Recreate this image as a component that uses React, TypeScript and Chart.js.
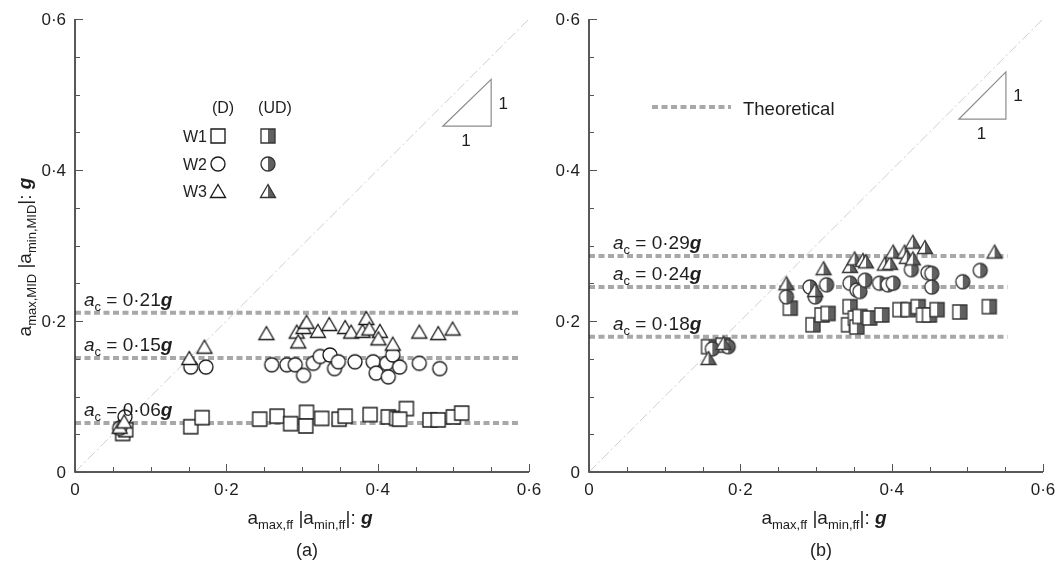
import React, { useEffect, useRef } from 'react';
import { Chart, registerables } from 'chart.js';
Chart.register(...registerables);

// ---------- data: panel (a), dry (D) ----------
const W1_D_X = [0.063, 0.067, 0.153, 0.168, 0.244, 0.267, 0.285, 0.306, 0.305, 0.326, 0.349, 0.357, 0.390, 0.414, 0.425, 0.438, 0.429, 0.469, 0.480, 0.500, 0.511];
const W1_D_Y = [0.051, 0.056, 0.060, 0.072, 0.070, 0.074, 0.064, 0.079, 0.061, 0.071, 0.070, 0.074, 0.076, 0.073, 0.071, 0.084, 0.070, 0.069, 0.069, 0.073, 0.078];
const W2_D_X = [0.059, 0.066, 0.153, 0.173, 0.260, 0.280, 0.291, 0.302, 0.315, 0.324, 0.337, 0.343, 0.348, 0.370, 0.394, 0.398, 0.412, 0.414, 0.420, 0.429, 0.455, 0.482];
const W2_D_Y = [0.058, 0.073, 0.139, 0.139, 0.142, 0.142, 0.142, 0.128, 0.144, 0.153, 0.155, 0.137, 0.146, 0.146, 0.146, 0.131, 0.144, 0.126, 0.155, 0.139, 0.144, 0.137];
const W3_D_X = [0.059, 0.065, 0.151, 0.171, 0.253, 0.293, 0.295, 0.302, 0.306, 0.321, 0.336, 0.357, 0.365, 0.380, 0.385, 0.389, 0.403, 0.401, 0.420, 0.455, 0.480, 0.499];
const W3_D_Y = [0.060, 0.067, 0.151, 0.166, 0.184, 0.186, 0.173, 0.192, 0.199, 0.187, 0.196, 0.192, 0.186, 0.187, 0.204, 0.190, 0.187, 0.177, 0.170, 0.186, 0.184, 0.190];

// ---------- data: panel (b), undrained (UD) ----------
const W1_UD_X = [0.158, 0.177, 0.266, 0.296, 0.308, 0.316, 0.345, 0.343, 0.352, 0.354, 0.358, 0.371, 0.387, 0.411, 0.422, 0.435, 0.442, 0.450, 0.460, 0.490, 0.529];
const W1_UD_Y = [0.166, 0.168, 0.217, 0.195, 0.208, 0.210, 0.219, 0.195, 0.204, 0.192, 0.206, 0.204, 0.208, 0.215, 0.215, 0.219, 0.208, 0.208, 0.215, 0.212, 0.219];
const W2_UD_X = [0.163, 0.184, 0.261, 0.292, 0.299, 0.314, 0.345, 0.354, 0.358, 0.365, 0.384, 0.395, 0.402, 0.426, 0.448, 0.453, 0.453, 0.494, 0.517];
const W2_UD_Y = [0.163, 0.166, 0.232, 0.245, 0.232, 0.248, 0.250, 0.241, 0.239, 0.254, 0.250, 0.248, 0.250, 0.268, 0.264, 0.263, 0.245, 0.252, 0.267];
const W3_UD_X = [0.158, 0.178, 0.261, 0.299, 0.310, 0.345, 0.351, 0.362, 0.366, 0.391, 0.398, 0.402, 0.417, 0.420, 0.428, 0.444, 0.428, 0.536];
const W3_UD_Y = [0.151, 0.171, 0.250, 0.241, 0.270, 0.273, 0.283, 0.281, 0.279, 0.276, 0.277, 0.292, 0.292, 0.285, 0.305, 0.298, 0.283, 0.292];

// ---------- theoretical thresholds ----------
const THEORY_A = [0.211, 0.151, 0.065];
const THEORY_A_LABELS = ['0·21', '0·15', '0·06'];
const THEORY_A_XEND = 0.59;
const THEORY_B = [0.286, 0.245, 0.179];
const THEORY_B_LABELS = ['0·29', '0·24', '0·18'];
const THEORY_B_XEND = 0.553;

// ---------- axes ----------
const AXIS_MIN = 0;
const AXIS_MAX = 0.6;
const MINOR_STEP = 0.05;
const MAJOR_TICKS = [0, 0.2, 0.4, 0.6];
const MAJOR_LABELS = ['0', '0·2', '0·4', '0·6'];
const DIAG = [0, 0.6];

// slope triangles (1:1)
const SLOPE_A_X = [0.486, 0.55];
const SLOPE_A_Y = [0.458, 0.52];
const SLOPE_B_X = [0.489, 0.551];
const SLOPE_B_Y = [0.4675, 0.53];

const FONT = '"Liberation Sans", Arial, Helvetica, sans-serif';
const TEXT = '#1e1e1e';
const THEORY_COLOR = '#a8a8a8';

type Seg = { t: string; size: number; italic?: boolean; bold?: boolean; dy?: number };
const fontOf = (s: Seg) => `${s.italic ? 'italic ' : ''}${s.bold ? 'bold ' : ''}${s.size}px ${FONT}`;

function drawRich(ctx: CanvasRenderingContext2D, segs: Seg[], x: number, baseline: number, align: 'left' | 'center' | 'right' = 'left') {
  ctx.save();
  const widths = segs.map((s) => {
    ctx.font = fontOf(s);
    return ctx.measureText(s.t).width;
  });
  const total = widths.reduce((a, b) => a + b, 0);
  let cx = align === 'center' ? x - total / 2 : align === 'right' ? x - total : x;
  ctx.textAlign = 'left';
  ctx.textBaseline = 'alphabetic';
  ctx.fillStyle = TEXT;
  segs.forEach((s, i) => {
    ctx.font = fontOf(s);
    ctx.fillText(s.t, cx, baseline + (s.dy || 0));
    cx += widths[i];
  });
  ctx.restore();
}

function makeMarker(shape: 'rect' | 'circle' | 'triangle', half: boolean): HTMLCanvasElement {
  const c = document.createElement('canvas');
  c.width = 20;
  c.height = 20;
  const g = c.getContext('2d')!;
  const path = () => {
    g.beginPath();
    if (shape === 'rect') g.rect(3, 3, 14, 14);
    else if (shape === 'circle') g.arc(10, 10, 7, 0, Math.PI * 2);
    else {
      g.moveTo(10, 3.5);
      g.lineTo(17.5, 16.5);
      g.lineTo(2.5, 16.5);
      g.closePath();
    }
  };
  path();
  g.fillStyle = '#ffffff';
  g.fill();
  if (half) {
    g.save();
    path();
    g.clip();
    g.fillStyle = '#606060';
    g.fillRect(10, 0, 10, 20);
    g.restore();
  }
  path();
  g.lineWidth = 1.35;
  g.strokeStyle = half ? '#353535' : '#1a1a1a';
  g.stroke();
  return c;
}

const zip = (xs: number[], ys: number[]) => xs.map((x, i) => ({ x, y: ys[i] }));

type Panel = {
  id: 'a' | 'b';
  offsetX: number;
  yAxisWidth: number;
  padRight: number;
  series: { xs: number[]; ys: number[]; marker: HTMLCanvasElement; order: number }[];
  theory: number[];
  theoryLabels: string[];
  theoryEnd: number;
  labelDx: number;
  slopeX: number[];
  slopeY: number[];
};

function decoPlugin(p: Panel, markers: Record<string, HTMLCanvasElement>) {
  return {
    id: 'deco' + p.id,
    afterDatasetsDraw(chart: any) {
      const ctx: CanvasRenderingContext2D = chart.ctx;
      const xs = chart.scales.x;
      const ys = chart.scales.y;
      const area = chart.chartArea;
      const isMajor = (v: number) => Math.abs(v / 0.2 - Math.round(v / 0.2)) < 1e-6;

      ctx.save();
      // axes lines
      ctx.strokeStyle = '#222';
      ctx.lineWidth = 1.5;
      ctx.beginPath();
      ctx.moveTo(area.left, area.top);
      ctx.lineTo(area.left, area.bottom);
      ctx.lineTo(area.right, area.bottom);
      ctx.stroke();

      // inward ticks
      ctx.strokeStyle = '#555';
      ctx.lineWidth = 1;
      xs.ticks.forEach((t: any) => {
        const px = Math.round(xs.getPixelForValue(t.value)) + 0.5;
        const len = isMajor(t.value) ? 8 : 5;
        ctx.beginPath();
        ctx.moveTo(px, area.bottom);
        ctx.lineTo(px, area.bottom - len);
        ctx.stroke();
      });
      ys.ticks.forEach((t: any) => {
        const py = Math.round(ys.getPixelForValue(t.value)) + 0.5;
        const len = isMajor(t.value) ? 8 : 5;
        ctx.beginPath();
        ctx.moveTo(area.left, py);
        ctx.lineTo(area.left + len, py);
        ctx.stroke();
      });
      ctx.restore();

      // tick labels
      MAJOR_TICKS.forEach((v, i) => {
        const px = xs.getPixelForValue(v);
        drawRich(ctx, [{ t: MAJOR_LABELS[i], size: 17 }], px, area.bottom + 23, 'center');
        const py = ys.getPixelForValue(v);
        drawRich(ctx, [{ t: MAJOR_LABELS[i], size: 17 }], area.left - 9, py + 6, 'right');
      });

      // x title and panel letter
      const cx = (area.left + area.right) / 2;
      drawRich(
        ctx,
        [
          { t: 'a', size: 19 },
          { t: 'max,ff', size: 13, dy: 5 },
          { t: ' |a', size: 19 },
          { t: 'min,ff', size: 13, dy: 5 },
          { t: '|: ', size: 19 },
          { t: 'g', size: 19, bold: true, italic: true },
        ],
        cx + 8,
        area.bottom + 52,
        'center'
      );
      drawRich(ctx, [{ t: p.id === 'a' ? '(a)' : '(b)', size: 18 }], cx + 5, area.bottom + 84, 'center');

      // theoretical labels
      p.theory.forEach((v, i) => {
        const py = ys.getPixelForValue(v);
        drawRich(
          ctx,
          [
            { t: 'a', size: 19, italic: true },
            { t: 'c', size: 13, dy: 5 },
            { t: ' = ' + p.theoryLabels[i], size: 19 },
            { t: 'g', size: 19, bold: true, italic: true },
          ],
          area.left + p.labelDx,
          py - 7
        );
      });

      // slope triangle
      const x0 = xs.getPixelForValue(p.slopeX[0]);
      const x1 = xs.getPixelForValue(p.slopeX[1]);
      const y0 = ys.getPixelForValue(p.slopeY[0]);
      const y1 = ys.getPixelForValue(p.slopeY[1]);
      ctx.save();
      ctx.strokeStyle = '#8c8c8c';
      ctx.lineWidth = 1.2;
      ctx.beginPath();
      ctx.moveTo(x0, y0);
      ctx.lineTo(x1, y1);
      ctx.lineTo(x1, y0);
      ctx.closePath();
      ctx.stroke();
      ctx.restore();
      drawRich(ctx, [{ t: '1', size: 17 }], x1 + 12, (y0 + y1) / 2 + 6, 'center');
      drawRich(ctx, [{ t: '1', size: 17 }], (x0 + x1) / 2 - 1, y0 + 20, 'center');

      if (p.id === 'a') {
        // y title (rotated)
        ctx.save();
        ctx.translate(31, 257);
        ctx.rotate(-Math.PI / 2);
        drawRich(
          ctx,
          [
            { t: 'a', size: 19 },
            { t: 'max,MID', size: 13, dy: 5 },
            { t: ' |a', size: 19 },
            { t: 'min,MID', size: 13, dy: 5 },
            { t: '|: ', size: 19 },
            { t: 'g', size: 19, bold: true, italic: true },
          ],
          0,
          0,
          'center'
        );
        ctx.restore();

        // legend
        drawRich(ctx, [{ t: '(D)', size: 16 }], 223, 113, 'center');
        drawRich(ctx, [{ t: '(UD)', size: 16 }], 275, 113, 'center');
        const rows = [
          { label: 'W1', d: markers.rectD, u: markers.rectU, y: 136 },
          { label: 'W2', d: markers.circD, u: markers.circU, y: 164 },
          { label: 'W3', d: markers.triD, u: markers.triU, y: 191 },
        ];
        rows.forEach((r) => {
          drawRich(ctx, [{ t: r.label, size: 16 }], 207, r.y + 6, 'right');
          ctx.drawImage(r.d, 218 - 10, r.y - 10);
          ctx.drawImage(r.u, 268 - 10, r.y - 10);
        });
      } else {
        // theoretical legend (page coords shifted into this canvas)
        const ox = p.offsetX;
        ctx.save();
        ctx.strokeStyle = THEORY_COLOR;
        ctx.lineWidth = 4;
        ctx.setLineDash([6, 3.5]);
        ctx.beginPath();
        ctx.moveTo(652 - ox, 107);
        ctx.lineTo(731 - ox, 107);
        ctx.stroke();
        ctx.restore();
        drawRich(ctx, [{ t: 'Theoretical', size: 18.5 }], 743 - ox, 115, 'left');
      }
    },
  };
}

function buildConfig(p: Panel, markers: Record<string, HTMLCanvasElement>): any {
  const datasets: any[] = [];
  p.series.forEach((s) => {
    datasets.push({
      data: zip(s.xs, s.ys),
      pointStyle: s.marker,
      pointRadius: 7,
      pointHoverRadius: 7,
      showLine: false,
      order: s.order,
    });
  });
  p.theory.forEach((v) => {
    datasets.push({
      data: [
        { x: AXIS_MIN, y: v },
        { x: p.theoryEnd, y: v },
      ],
      showLine: true,
      borderColor: THEORY_COLOR,
      borderWidth: 4,
      borderDash: [6, 3.5],
      pointRadius: 0,
      order: 10,
    });
  });
  datasets.push({
    data: [
      { x: DIAG[0], y: DIAG[0] },
      { x: DIAG[1], y: DIAG[1] },
    ],
    showLine: true,
    borderColor: '#cfcfcf',
    borderWidth: 1,
    borderDash: [10, 3, 2, 3],
    pointRadius: 0,
    order: 11,
  });

  const axis = (isY: boolean) => ({
    type: 'linear',
    min: AXIS_MIN,
    max: AXIS_MAX,
    grid: { display: false },
    border: { display: false },
    ticks: { display: false, stepSize: MINOR_STEP, autoSkip: false },
    afterFit: (scale: any) => {
      if (isY) scale.width = p.yAxisWidth;
      else scale.height = 92;
    },
  });

  return {
    type: 'scatter',
    data: { datasets },
    options: {
      animation: false,
      responsive: false,
      devicePixelRatio: 1,
      events: [],
      layout: { autoPadding: false, padding: { top: 19, right: p.padRight, left: 0, bottom: 0 } },
      plugins: { legend: { display: false }, tooltip: { enabled: false } },
      scales: { x: axis(false), y: axis(true) },
    },
    plugins: [decoPlugin(p, markers)],
  };
}

export default function App() {
  const refA = useRef<HTMLCanvasElement>(null);
  const refB = useRef<HTMLCanvasElement>(null);

  useEffect(() => {
    const markers = {
      rectD: makeMarker('rect', false),
      circD: makeMarker('circle', false),
      triD: makeMarker('triangle', false),
      rectU: makeMarker('rect', true),
      circU: makeMarker('circle', true),
      triU: makeMarker('triangle', true),
    };
    const panelA: Panel = {
      id: 'a',
      offsetX: 0,
      yAxisWidth: 75,
      padRight: 16,
      series: [
        { xs: W1_D_X, ys: W1_D_Y, marker: markers.rectD, order: 3 },
        { xs: W2_D_X, ys: W2_D_Y, marker: markers.circD, order: 2 },
        { xs: W3_D_X, ys: W3_D_Y, marker: markers.triD, order: 1 },
      ],
      theory: THEORY_A,
      theoryLabels: THEORY_A_LABELS,
      theoryEnd: THEORY_A_XEND,
      labelDx: 9,
      slopeX: SLOPE_A_X,
      slopeY: SLOPE_A_Y,
    };
    const panelB: Panel = {
      id: 'b',
      offsetX: 545,
      yAxisWidth: 44,
      padRight: 19,
      series: [
        { xs: W1_UD_X, ys: W1_UD_Y, marker: markers.rectU, order: 3 },
        { xs: W2_UD_X, ys: W2_UD_Y, marker: markers.circU, order: 2 },
        { xs: W3_UD_X, ys: W3_UD_Y, marker: markers.triU, order: 1 },
      ],
      theory: THEORY_B,
      theoryLabels: THEORY_B_LABELS,
      theoryEnd: THEORY_B_XEND,
      labelDx: 24,
      slopeX: SLOPE_B_X,
      slopeY: SLOPE_B_Y,
    };
    const a = new Chart(refA.current!, buildConfig(panelA, markers));
    const b = new Chart(refB.current!, buildConfig(panelB, markers));
    return () => {
      a.destroy();
      b.destroy();
    };
  }, []);

  return (
    <div style={{ position: 'fixed', left: 0, top: 0, width: 1062, height: 564, background: '#fff' }}>
      <canvas ref={refA} width={545} height={564} style={{ position: 'absolute', left: 0, top: 0, width: 545, height: 564 }} />
      <canvas ref={refB} width={517} height={564} style={{ position: 'absolute', left: 545, top: 0, width: 517, height: 564 }} />
    </div>
  );
}
